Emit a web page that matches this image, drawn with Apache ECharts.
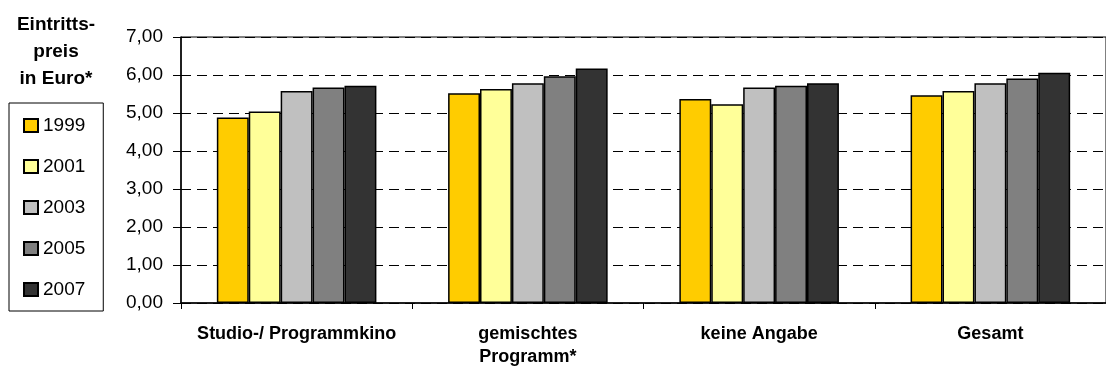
<!DOCTYPE html>
<html>
<head>
<meta charset="utf-8">
<script src="https://cdn.jsdelivr.net/npm/echarts@6/dist/echarts.min.js"></script>
<style>
  html, body { margin: 0; padding: 0; background: #fff; }
  #chart { width: 1106px; height: 369px; }
</style>
</head>
<body>
<div id="chart"></div>
<script>
// Cinema categories along the x axis
const categories = ['Studio-/ Programmkino', 'gemischtes\nProgramm*', 'keine Angabe', 'Gesamt'];
// Survey years, one bar series each
const years = ['1999', '2001', '2003', '2005', '2007'];
// Average admission price in euro, per year across the categories
const v1999 = [4.88, 5.52, 5.37, 5.47];
const v2001 = [5.04, 5.63, 5.23, 5.58];
const v2003 = [5.58, 5.78, 5.67, 5.78];
const v2005 = [5.67, 5.97, 5.72, 5.91];
const v2007 = [5.72, 6.17, 5.78, 6.06];
const yearColors = ['#FFCC00', '#FFFF99', '#C0C0C0', '#808080', '#333333'];
const axisTitle = 'Eintritts-\npreis\nin Euro*';

const values = [v1999, v2001, v2003, v2005, v2007];
const font = '"Liberation Sans", Arial, sans-serif';

const chart = echarts.init(document.getElementById('chart'), null, { renderer: 'canvas' });

chart.setOption({
  animation: false,
  backgroundColor: '#fff',
  textStyle: { fontFamily: font },
  graphic: [{
    type: 'text',
    x: 56,
    y: 11,
    style: {
      text: axisTitle,
      fontFamily: font,
      fontWeight: 'bold',
      fontSize: 19,
      lineHeight: 27,
      align: 'center',
      verticalAlign: 'top',
      fill: '#000'
    }
  }],
  legend: {
    orient: 'vertical',
    left: 9,
    top: 103,
    data: years,
    icon: 'rect',
    itemWidth: 14,
    itemHeight: 13,
    itemGap: 22,
    padding: [13, 18, 12, 14],
    borderColor: '#000',
    borderWidth: 1,
    textStyle: { fontFamily: font, fontSize: 19, color: '#000' },
    selectedMode: false
  },
  grid: {
    left: 181,
    top: 37,
    width: 929,
    height: 270,
    show: true,
    borderColor: '#000',
    borderWidth: 1,
    backgroundColor: 'transparent'
  },
  xAxis: {
    type: 'category',
    data: categories,
    axisLine: { lineStyle: { color: '#000', width: 1.5 } },
    axisTick: { show: true, length: 6, lineStyle: { color: '#000' } },
    axisLabel: {
      interval: 0,
      margin: 20,
      fontFamily: font,
      fontWeight: 'bold',
      fontSize: 18,
      lineHeight: 23,
      color: '#000'
    }
  },
  yAxis: {
    type: 'value',
    min: 0,
    max: 7,
    interval: 1,
    axisLine: { show: true, lineStyle: { color: '#000', width: 1.5 } },
    axisTick: { show: true, length: 8, lineStyle: { color: '#000' } },
    axisLabel: {
      margin: 18,
      fontFamily: font,
      fontSize: 19,
      color: '#000',
      formatter: v => v.toFixed(2).replace('.', ',')
    },
    splitLine: {
      show: true,
      lineStyle: { color: '#000', type: [10, 6], width: 1 }
    }
  },
  series: years.map((y, i) => ({
    name: y,
    type: 'bar',
    data: values[i],
    barGap: '0%',
    barCategoryGap: '31%',
    itemStyle: {
      color: yearColors[i],
      borderColor: '#000',
      borderWidth: 1.5
    }
  }))
});
</script>
</body>
</html>
